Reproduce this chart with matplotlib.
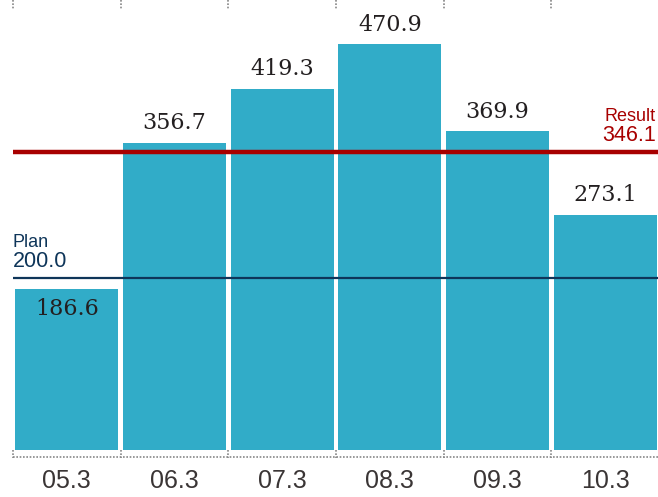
import matplotlib
matplotlib.use("Agg")
import matplotlib.pyplot as plt

# data
categories = ["05.3", "06.3", "07.3", "08.3", "09.3", "10.3"]
values = [186.6, 356.7, 419.3, 470.9, 369.9, 273.1]
plan = 200.0
result = 346.1

bar_color = "#31acc8"
red = "#a80000"
navy = "#0e3559"
dotc = "#888888"


def main():
    fig = plt.figure(figsize=(6.58, 4.97), dpi=100)
    ax = fig.add_axes([13 / 658, 47 / 497, 646 / 658, 450 / 497])
    x = list(range(len(categories)))

    ax.bar(x, values, width=0.955, color=bar_color, zorder=2)
    ax.set_xlim(-0.5, len(categories) - 0.5)
    ax.set_ylim(0, 522)

    # value labels (first one sits inside the bar)
    for i, v in enumerate(values):
        if i == 0:
            ax.annotate(f"{v:.1f}", (i, v), xytext=(0, -14), textcoords="offset points",
                        ha="center", va="center", fontsize=16, family="DejaVu Serif",
                        color="#231f20", zorder=5)
        else:
            ax.annotate(f"{v:.1f}", (i, v), xytext=(0, 6), textcoords="offset points",
                        ha="center", va="bottom", fontsize=16, family="DejaVu Serif",
                        color="#231f20", zorder=5)

    # plan / result lines
    ax.axhline(result, color=red, lw=3.2, zorder=3, solid_capstyle="round")
    ax.axhline(plan, color=navy, lw=1.6, zorder=3)
    yt = ax.get_yaxis_transform()
    ax.text(0.995, result + 7, "346.1", transform=yt, ha="right", va="bottom",
            fontsize=15.5, color=red, family="Liberation Sans")
    ax.text(0.995, result + 31, "Result", transform=yt, ha="right", va="bottom",
            fontsize=13, color=red, family="Liberation Sans")
    ax.text(0.0, plan + 7, "200.0", transform=yt, ha="left", va="bottom",
            fontsize=15.5, color=navy, family="Liberation Sans")
    ax.text(0.0, plan + 31, "Plan", transform=yt, ha="left", va="bottom",
            fontsize=13, color=navy, family="Liberation Sans")

    # dotted ticks top and bottom
    xt = ax.get_xaxis_transform()
    for b in [i - 0.5 for i in range(len(categories) + 1)]:
        ax.plot([b, b], [1.0, 0.978], transform=xt, color=dotc, lw=1.2,
                ls=(0, (1, 1)), clip_on=False)
        ax.plot([b, b], [0.0, -0.018], transform=xt, color=dotc, lw=1.2,
                ls=(0, (1, 1)), clip_on=False)
    ax.plot([-0.5, len(categories) - 0.5], [-0.016, -0.016], transform=xt, color=dotc,
            lw=1.2, ls=(0, (1, 1)), clip_on=False)

    ax.set_xticks(x)
    ax.set_xticklabels(categories, fontsize=18, color="#3a3535", family="Liberation Sans")
    ax.tick_params(axis="x", length=0, pad=14)
    ax.set_yticks([])
    for s in ax.spines.values():
        s.set_visible(False)

    fig.savefig("out.png", dpi=100)


if __name__ == "__main__":
    main()
